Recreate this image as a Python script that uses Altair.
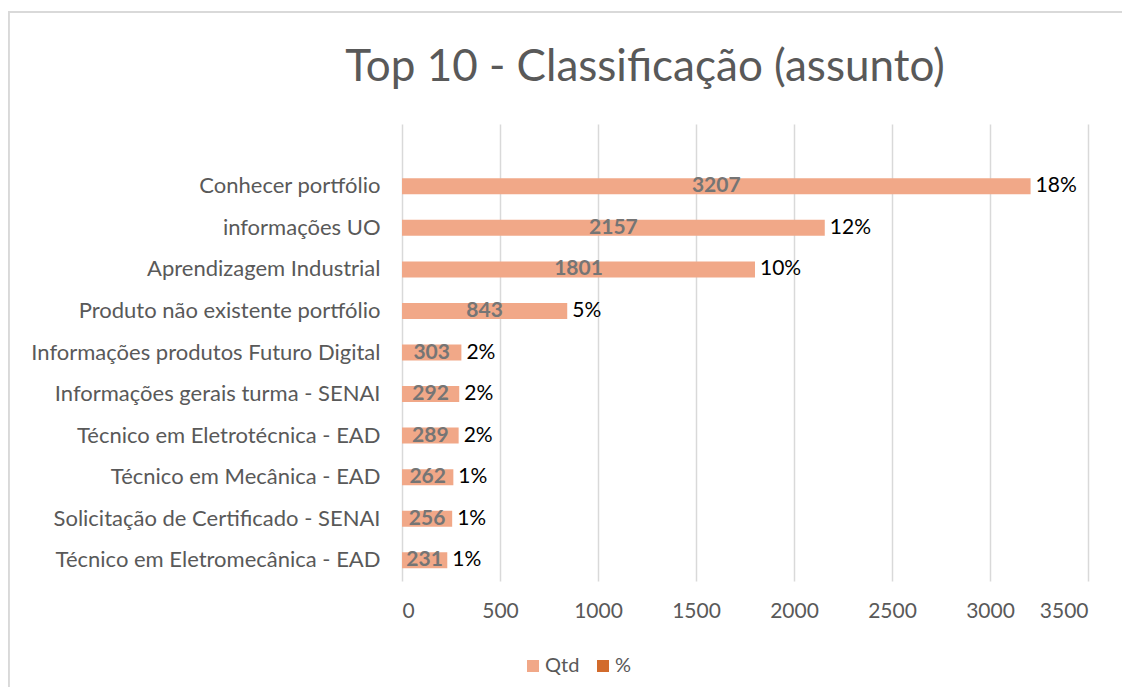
import altair as alt
import pandas as pd

categories = [
    "Conhecer portfólio",
    "informações UO",
    "Aprendizagem Industrial",
    "Produto não existente portfólio",
    "Informações produtos Futuro Digital",
    "Informações gerais turma - SENAI",
    "Técnico em  Eletrotécnica - EAD",
    "Técnico em Mecânica - EAD",
    "Solicitação de Certificado - SENAI",
    "Técnico em Eletromecânica - EAD",
]
qtd = [3207, 2157, 1801, 843, 303, 292, 289, 262, 256, 231]
pct = ["18%", "12%", "10%", "5%", "2%", "2%", "2%", "1%", "1%", "1%"]
x_ticks = [0, 500, 1000, 1500, 2000, 2500, 3000, 3500]
series_names = ["Qtd", "%"]
series_colors = ["#F1A888", "#D26B2C"]

df = pd.DataFrame({"cat": categories, "qtd": qtd, "pct": pct, "series": "Qtd"})
y_domain = [" "] + categories

FONT = "Lato"
GRAY = "#595959"

x_enc = alt.X(
    "qtd:Q",
    scale=alt.Scale(domain=[0, 3500], nice=False),
    axis=alt.Axis(
        values=x_ticks, format="d", grid=True, gridColor="#d9d9d9", gridWidth=1.5,
        domain=False, ticks=False, labelPadding=19, title=None,
        labelFont=FONT, labelFontSize=21, labelColor=GRAY,
    ),
)
y_enc = alt.Y(
    "cat:N",
    sort=y_domain,
    scale=alt.Scale(domain=y_domain, paddingInner=0, paddingOuter=0),
    axis=alt.Axis(
        domain=False, ticks=False, labelPadding=22, title=None,
        labelFont=FONT, labelFontSize=22, labelColor=GRAY, labelLimit=400,
    ),
)

base = alt.Chart(df)

bars = base.mark_bar(size=16).encode(
    x=x_enc,
    y=y_enc,
    color=alt.Color(
        "series:N",
        scale=alt.Scale(domain=series_names, range=series_colors),
        legend=alt.Legend(
            title=None, orient="none", legendX=121, legendY=532,
            direction="horizontal", symbolType="square", symbolSize=144,
            symbolStrokeWidth=0, labelFont=FONT, labelFontSize=20,
            labelColor=GRAY, labelOffset=2, columnPadding=13,
        ),
    ),
)

inner = base.transform_calculate(mid="datum.qtd / 2").mark_text(
    font=FONT, fontSize=21, fontWeight="bold", color="#757575", baseline="middle"
).encode(x="mid:Q", y=alt.Y("cat:N", sort=y_domain), text="qtd:Q")

outer = base.mark_text(
    font=FONT, fontSize=21, color="#000000", align="left", dx=5, baseline="middle"
).encode(x="qtd:Q", y=alt.Y("cat:N", sort=y_domain), text="pct:N")

border_left = alt.Chart(df).mark_rule(color="#d9d9d9", strokeWidth=1.5).encode(
    x=alt.value(-393.5), y=alt.value(-112), y2=alt.value(580)
)
border_top = alt.Chart(df).mark_rule(color="#d9d9d9", strokeWidth=1.5).encode(
    x=alt.value(-394), x2=alt.value(740), y=alt.value(-112)
)

chart = alt.layer(border_left, border_top, bars, inner, outer).properties(
    width=686,
    height=457,
    title=alt.TitleParams(
        "Top 10 - Classificação (assunto)",
        font=FONT, fontSize=44, fontWeight="normal", color=GRAY,
        anchor="middle", frame="group", dx=-100, offset=-114, baseline="alphabetic",
    ),
    autosize=alt.AutoSizeParams(type="none"),
    padding={"left": 394, "top": 116, "right": 34, "bottom": 106},
    background="white",
).configure_view(stroke=None)

chart.save("out.html", embed_options={"renderer": "svg", "actions": False})
